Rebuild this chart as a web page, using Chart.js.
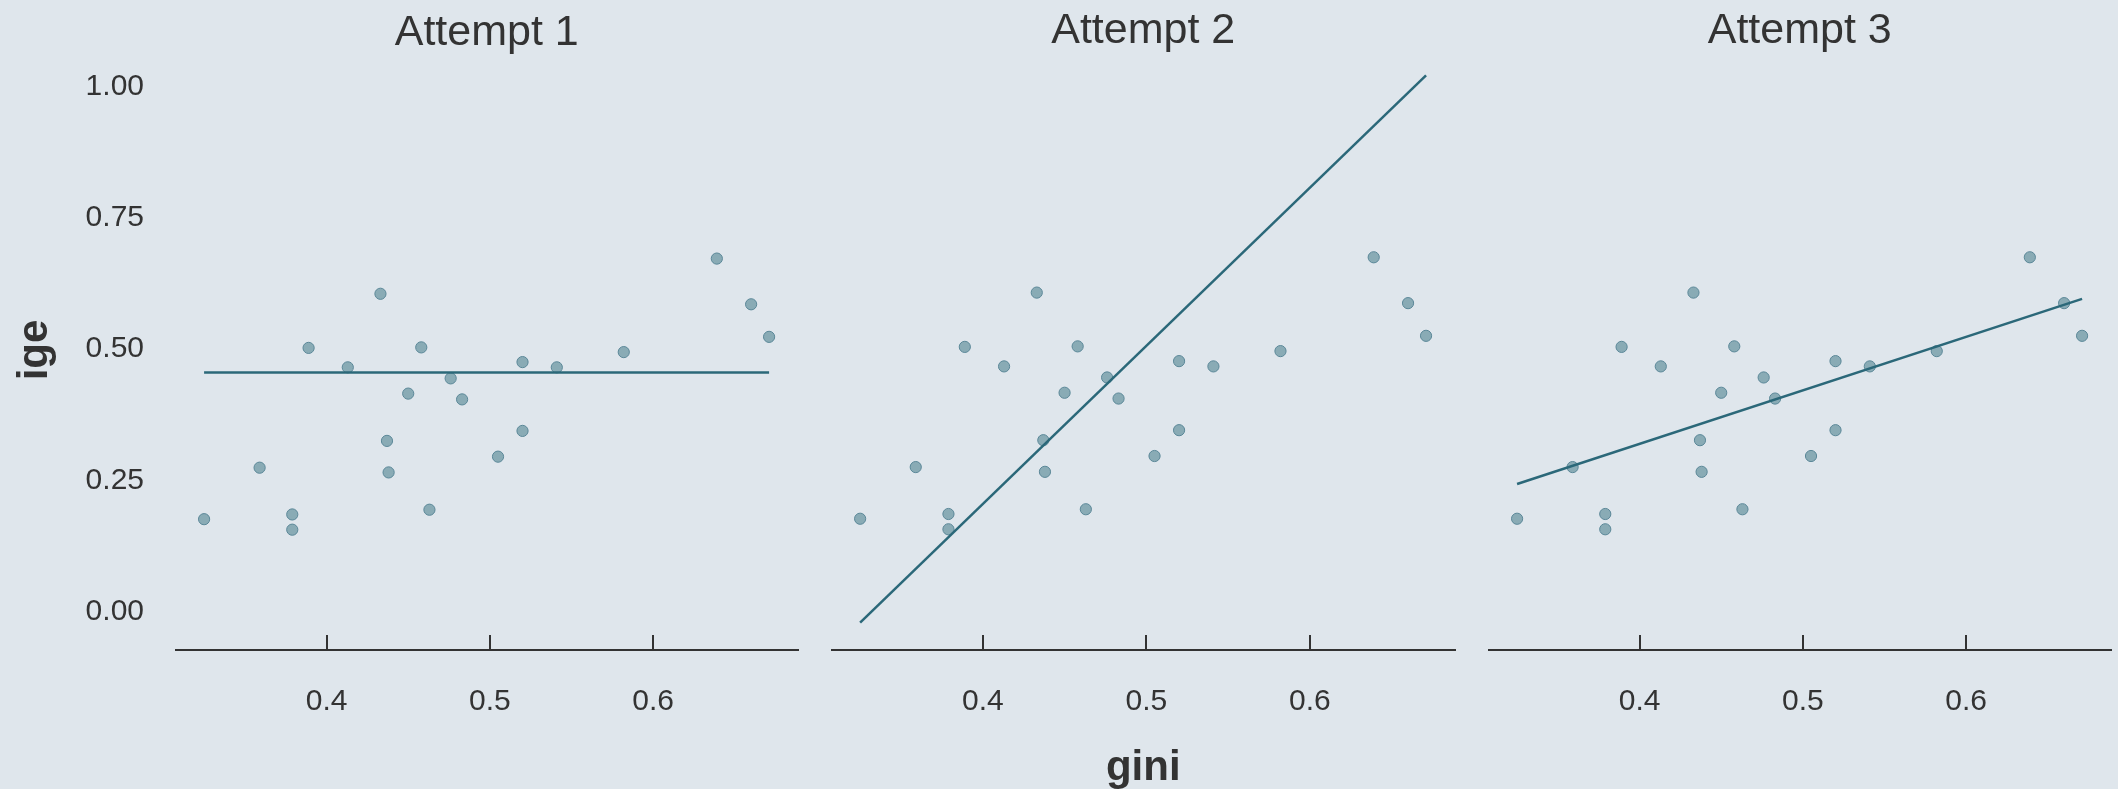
<!DOCTYPE html>
<html>
<head>
<meta charset="utf-8">
<title>ige vs gini</title>
<script src="https://cdn.jsdelivr.net/npm/chart.js@4"></script>
<style>
  html, body { margin: 0; padding: 0; background: #dfe6ec; }
  body { width: 2118px; height: 789px; position: relative; overflow: hidden; }
  canvas { position: absolute; top: 0; }
</style>
</head>
<body>
<canvas id="p1" width="810" height="789" style="left:0px;width:810px;height:789px"></canvas>
<canvas id="p2" width="655" height="789" style="left:815px;width:655px;height:789px"></canvas>
<canvas id="p3" width="643" height="789" style="left:1475px;width:643px;height:789px"></canvas>
<script>
// --- data ---
const gini = [0.325, 0.359, 0.379, 0.379, 0.389, 0.413, 0.433, 0.437, 0.438, 0.450, 0.458,
              0.463, 0.476, 0.483, 0.505, 0.520, 0.520, 0.541, 0.582, 0.639, 0.660, 0.671];
const ige  = [0.176, 0.274, 0.185, 0.156, 0.502, 0.465, 0.605, 0.325, 0.265, 0.415, 0.503,
              0.194, 0.444, 0.404, 0.295, 0.475, 0.344, 0.465, 0.494, 0.672, 0.585, 0.523];

// fitted line for each attempt, at the two ends of the gini range
const lineGini = [0.325, 0.671];
const attempt1 = [0.455, 0.455];
const attempt2 = [-0.021, 1.017];
const attempt3 = [0.242, 0.593];

const panelTitles = ['Attempt 1', 'Attempt 2', 'Attempt 3'];
const xTicks = [0.4, 0.5, 0.6];
const yTicks = [0.00, 0.25, 0.50, 0.75, 1.00];

const FONT = "'Liberation Sans', Arial, sans-serif";
const INK = '#333333';

const points = gini.map((g, i) => ({ x: g, y: ige[i] }));

const panels = [
  { id: 'p1', title: panelTitles[0], fit: attempt1, padLeft: 0,  padRight: 12.5, showY: true,  xTitle: '' },
  { id: 'p2', title: panelTitles[1], fit: attempt2, padLeft: 17, padRight: 15.5, showY: false, xTitle: 'gini' },
  { id: 'p3', title: panelTitles[2], fit: attempt3, padLeft: 14, padRight: 7.5,  showY: false, xTitle: '' }
];

panels.forEach(p => {
  const ctx = document.getElementById(p.id).getContext('2d');
  new Chart(ctx, {
    type: 'scatter',
    data: {
      datasets: [
        {
          type: 'line',
          data: lineGini.map((g, i) => ({ x: g, y: p.fit[i] })),
          borderColor: '#2b6879',
          borderWidth: 2.5,
          pointRadius: 0,
          fill: false
        },
        {
          data: points,
          backgroundColor: 'rgba(122, 160, 172, 0.85)',
          borderColor: '#5a8797',
          borderWidth: 1,
          pointRadius: 5.6
        }
      ]
    },
    options: {
      responsive: false,
      animation: false,
      layout: { padding: { left: p.padLeft, right: p.padRight, top: 0, bottom: 0 } },
      plugins: { legend: { display: false }, tooltip: { enabled: false } },
      scales: {
        x: {
          type: 'linear',
          position: 'bottom',
          min: 0.3078,
          max: 0.6884,
          afterBuildTicks: s => { s.ticks = xTicks.map(v => ({ value: v })); },
          afterFit: s => { s.height = 139; },
          grid: { display: true, drawOnChartArea: false, drawTicks: true, tickLength: -15, color: INK, lineWidth: 2 },
          border: { display: true, color: INK, width: 2 },
          ticks: { color: INK, font: { family: FONT, size: 30 }, padding: 49, callback: v => v.toFixed(1) },
          title: { display: p.xTitle !== '', text: p.xTitle, color: INK, font: { family: FONT, size: 42, weight: 'bold' }, padding: { top: 0, bottom: -5 } }
        },
        top: {
          type: 'linear',
          position: 'top',
          min: 0,
          max: 1,
          afterFit: s => { s.height = 48; },
          grid: { display: false, drawTicks: false },
          border: { display: false },
          ticks: { display: false },
          title: { display: true, text: p.title, color: INK, font: { family: FONT, size: 43 }, padding: { top: 5, bottom: 0 } }
        },
        y: {
          type: 'linear',
          display: p.showY,
          min: -0.073,
          max: 1.069,
          afterBuildTicks: s => { s.ticks = yTicks.map(v => ({ value: v })); },
          afterFit: s => { if (p.showY) s.width = 176; },
          grid: { display: false, drawTicks: false },
          border: { display: false },
          ticks: { color: INK, font: { family: FONT, size: 30 }, padding: 32, callback: v => v.toFixed(2) },
          title: { display: true, text: 'ige', color: INK, font: { family: FONT, size: 42, weight: 'bold' }, padding: { top: 10, bottom: 0 } }
        }
      }
    }
  });
});
</script>
</body>
</html>
